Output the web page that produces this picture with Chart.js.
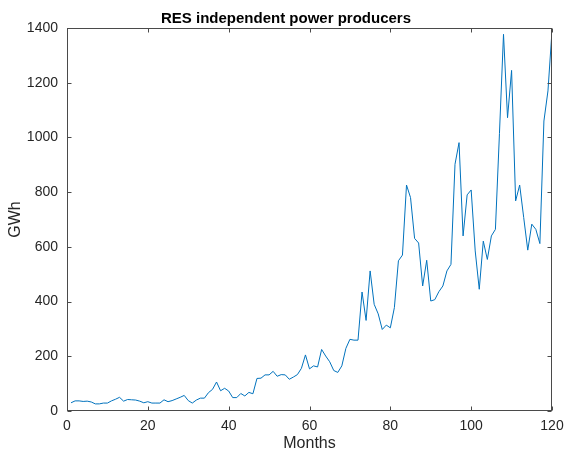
<!DOCTYPE html>
<html>
<head>
<meta charset="utf-8">
<script src="https://cdn.jsdelivr.net/npm/chart.js@4.4.1/dist/chart.umd.min.js"></script>
<style>
  html, body { margin: 0; padding: 0; background: #fff; }
  #wrap { width: 565px; height: 452px; }
</style>
</head>
<body>
<div id="wrap"><canvas id="resChart" width="565" height="452"></canvas></div>
<script>
const months = [];
for (let m = 1; m <= 120; m++) months.push(m);

// monthly production (GWh)
const production = [
  30, 37, 37, 35, 36, 33, 26, 26, 29, 29,
  37, 43, 50, 36, 42, 41, 40, 36, 30, 34,
  29, 29, 29, 41, 34, 38, 44, 50, 57, 38,
  29, 40, 47, 47, 67, 79, 106, 74, 83, 73,
  49, 49, 64, 55, 68, 63, 119, 120, 132, 132,
  145, 127, 133, 132, 116, 124, 133, 156, 205, 154,
  165, 161, 225, 201, 180, 148, 141, 165, 229, 262,
  259, 259, 435, 331, 512, 390, 355, 298, 314, 304,
  378, 549, 570, 826, 780, 631, 614, 457, 551, 402,
  407, 436, 457, 512, 536, 902, 981, 640, 790, 808,
  585, 445, 621, 554, 640, 664, 1015, 1377, 1072, 1245,
  768, 826, 707, 588, 683, 664, 612, 1060, 1170, 1390
];

const xTicks = [0, 20, 40, 60, 80, 100, 120];
const yTicks = [0, 200, 400, 600, 800, 1000, 1200, 1400];

const axisColor = '#262626';
const fontFamily = "'Liberation Sans', Arial, Helvetica, sans-serif";

// matlab style box with ticks pointing inwards
const boxPlugin = {
  id: 'matlabBox',
  afterDraw(chart) {
    const c = chart.ctx;
    const a = chart.chartArea;
    const xs = chart.scales.x;
    const ys = chart.scales.y;
    const L = Math.round(a.left) + 0.5, R = Math.round(a.right) - 0.5;
    const T = Math.round(a.top) + 0.5, B = Math.round(a.bottom) - 0.5;
    const len = 4;
    c.save();
    c.strokeStyle = '#4a4a4a';
    c.lineWidth = 1;
    c.strokeRect(L, T, R - L, B - T);
    c.beginPath();
    xTicks.forEach(v => {
      const px = Math.round(xs.getPixelForValue(v)) + 0.5;
      c.moveTo(px, B); c.lineTo(px, B - len);
      c.moveTo(px, T); c.lineTo(px, T + len);
    });
    yTicks.forEach(v => {
      const py = Math.round(ys.getPixelForValue(v)) + 0.5;
      c.moveTo(L, py); c.lineTo(L + len, py);
      c.moveTo(R, py); c.lineTo(R - len, py);
    });
    c.stroke();
    c.restore();
  }
};

const ctx = document.getElementById('resChart').getContext('2d');

new Chart(ctx, {
  type: 'line',
  data: {
    datasets: [{
      data: months.map((m, i) => ({ x: m, y: production[i] })),
      borderColor: '#0072BD',
      borderWidth: 1,
      pointRadius: 0,
      tension: 0,
      fill: false
    }]
  },
  options: {
    responsive: false,
    animation: false,
    layout: { padding: { left: 20, right: 13, top: 0, bottom: 0 } },
    plugins: {
      legend: { display: false },
      tooltip: { enabled: false },
      title: {
        display: true,
        text: 'RES independent power producers',
        color: '#000',
        font: { family: fontFamily, size: 15, weight: 'bold' },
        padding: { top: 10, bottom: 0 }
      }
    },
    scales: {
      x: {
        type: 'linear',
        min: 0,
        max: 120,
        afterBuildTicks: s => { s.ticks = xTicks.map(v => ({ value: v })); },
        afterFit: s => { s.height = 41; s.paddingLeft = 0; s.paddingRight = 0; },
        grid: { display: false, drawTicks: false },
        border: { display: false },
        ticks: {
          color: axisColor,
          padding: 7,
          maxRotation: 0,
          callback: v => String(v),
          font: { family: fontFamily, size: 14 }
        },
        title: {
          display: true,
          text: 'Months',
          color: axisColor,
          font: { family: fontFamily, size: 16, lineHeight: 1 },
          padding: { top: 0, bottom: 0 }
        }
      },
      y: {
        min: 0,
        max: 1400,
        afterBuildTicks: s => { s.ticks = yTicks.map(v => ({ value: v })); },
        afterFit: s => { s.width = 47; },
        grid: { display: false, drawTicks: false },
        border: { display: false },
        ticks: {
          color: axisColor,
          padding: 9,
          callback: v => String(v),
          font: { family: fontFamily, size: 14 }
        },
        title: {
          display: true,
          text: 'GWh',
          color: axisColor,
          font: { family: fontFamily, size: 16, lineHeight: 1 },
          padding: { top: -12, bottom: 0 }
        }
      }
    }
  },
  plugins: [boxPlugin]
});
</script>
</body>
</html>
